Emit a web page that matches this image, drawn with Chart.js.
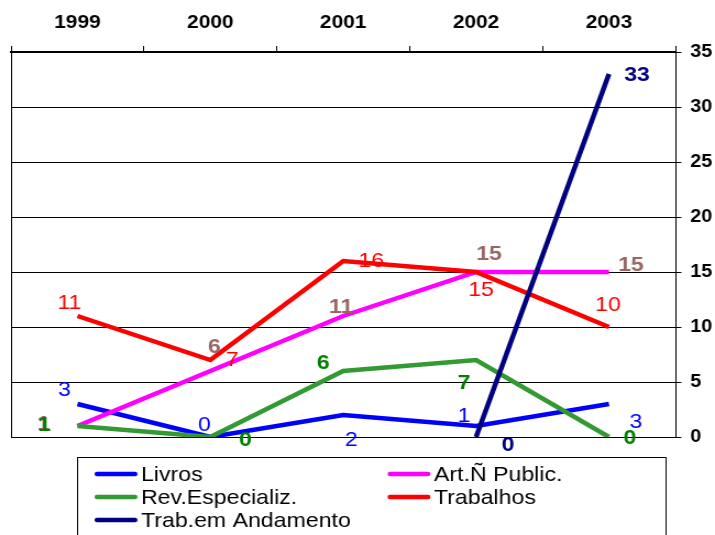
<!DOCTYPE html>
<html>
<head>
<meta charset="utf-8">
<script src="https://cdn.jsdelivr.net/npm/chart.js@4"></script>
<style>
  html, body { margin: 0; padding: 0; background: #fff; overflow: hidden; }
  /* the drawing is laid out narrow and widened horizontally */
  #wrap { width: 650px; height: 535px; transform: scaleX(1.1); transform-origin: 0 0; }
</style>
</head>
<body>
<div id="wrap"><canvas id="c" width="650" height="535"></canvas></div>
<script>
// ---- data ----
const years = ['1999', '2000', '2001', '2002', '2003'];
const livros = [3, 0, 2, 1, 3];
const artNaoPublic = [1, 6, 11, 15, 15];
const revEspecializ = [1, 0, 6, 7, 0];
const trabalhos = [11, 7, 16, 15, 10];
const trabAndamento = [null, null, null, 0, 33];
const yTicks = [0, 5, 10, 15, 20, 25, 30, 35];

// ---- styling ----
const STRETCH = 1.1;
const FONT = 'Arial, "Liberation Sans", sans-serif';

// value-label placement around each point (screen px: dx, dy)
const labelOffsets = [
  [[-13, -14], [-6, -12], [8, 25], [-12, -10], [27, 18]],
  [[-34, -2], [4, -24], [-2, -9], [13, -18], [22, -7]],
  [[-33, -1], [35, 3], [-20, -8], [-12, 23], [21, 1]],
  [[-8, -13], [22, 0], [28, 0], [5, 18], [-1, -22]],
  [null, null, null, [32, 8], [28, 1]]
];
const labelStyles = [
  { color: '#0000FF', weight: 'normal', size: 21 },
  { color: '#996666', weight: 'bold', size: 21 },
  { color: '#008000', weight: 'bold', size: 21 },
  { color: '#FF0000', weight: 'normal', size: 21 },
  { color: '#000080', weight: 'bold', size: 21 }
];

const series = [
  { label: 'Livros', data: livros, color: '#0000FF' },
  { label: 'Art.\u00D1 Public.', data: artNaoPublic, color: '#FF00FF' },
  { label: 'Rev.Especializ.', data: revEspecializ, color: '#339933' },
  { label: 'Trabalhos', data: trabalhos, color: '#FF0000' },
  { label: 'Trab.em Andamento', data: trabAndamento, color: '#000080' }
];

// left edge of the plot frame
const frameLeft = {
  id: 'frameLeft',
  afterDraw(chart) {
    const { ctx, chartArea: a } = chart;
    ctx.save();
    ctx.strokeStyle = '#000';
    ctx.lineWidth = 1;
    ctx.beginPath();
    ctx.moveTo(Math.round(a.left) + 0.5, a.top);
    ctx.lineTo(Math.round(a.left) + 0.5, a.bottom);
    ctx.stroke();
    ctx.restore();
  }
};

// numbers printed next to every point
const valueLabels = {
  id: 'valueLabels',
  afterDatasetsDraw(chart) {
    const ctx = chart.ctx;
    ctx.save();
    ctx.textAlign = 'center';
    ctx.textBaseline = 'middle';
    chart.data.datasets.forEach((ds, i) => {
      const meta = chart.getDatasetMeta(i);
      const st = labelStyles[i];
      ctx.fillStyle = st.color;
      ctx.font = `${st.weight} ${st.size}px ${FONT}`;
      ds.data.forEach((v, j) => {
        const off = labelOffsets[i][j];
        if (v === null || !off) return;
        const p = meta.data[j];
        ctx.fillText(String(v), p.x + off[0] / STRETCH, p.y + off[1]);
      });
    });
    ctx.restore();
  }
};

// boxed legend under the plot, two columns
const boxLegend = {
  id: 'boxLegend',
  afterDraw(chart) {
    const ctx = chart.ctx;
    const boxL = 77 / STRETCH, boxR = 666 / STRETCH, boxT = 457;
    ctx.save();
    ctx.strokeStyle = '#000';
    ctx.lineWidth = 1;
    ctx.strokeRect(Math.round(boxL) + 0.5, boxT + 0.5, Math.round(boxR - boxL), 120);
    const cols = [97 / STRETCH, 390 / STRETCH];
    const rows = [474, 497, 520];
    ctx.font = `21px ${FONT}`;
    ctx.textBaseline = 'middle';
    ctx.textAlign = 'left';
    chart.data.datasets.forEach((ds, i) => {
      const x = cols[i % 2], y = rows[Math.floor(i / 2)];
      ctx.strokeStyle = ds.borderColor;
      ctx.lineWidth = 4.5;
      ctx.lineCap = 'round';
      ctx.beginPath();
      ctx.moveTo(x, y);
      ctx.lineTo(x + 38 / STRETCH, y);
      ctx.stroke();
      ctx.fillStyle = '#000';
      ctx.fillText(ds.label, x + 44 / STRETCH, y + 1);
    });
    ctx.restore();
  }
};

new Chart(document.getElementById('c'), {
  type: 'line',
  data: {
    labels: years,
    datasets: series.map((s, i) => ({
      label: s.label,
      data: s.data,
      borderColor: s.color,
      backgroundColor: s.color,
      borderWidth: 4.5,
      pointRadius: 0,
      tension: 0,
      fill: false,
      order: series.length - i
    }))
  },
  options: {
    responsive: false,
    animation: false,
    layout: { padding: { left: 10, right: 0, top: 0, bottom: 98 } },
    plugins: { legend: { display: false }, tooltip: { enabled: false } },
    scales: {
      x: {
        type: 'category',
        position: 'top',
        offset: true,
        grid: { offset: true, drawOnChartArea: false, drawTicks: true, tickLength: 6, color: '#000', lineWidth: 1 },
        border: { display: true, color: '#000', width: 2 },
        ticks: { color: '#000', font: { family: FONT, size: 19, weight: 'bold' }, padding: 12, maxRotation: 0 },
        afterFit(s) { s.height = 52; }
      },
      y: {
        position: 'right',
        min: 0,
        max: 35,
        afterBuildTicks(s) { s.ticks = yTicks.map(v => ({ value: v })); },
        grid: { color: '#000', lineWidth: 1, drawTicks: true, tickLength: 6 / STRETCH },
        border: { display: true, color: '#000', width: 1 },
        ticks: { color: '#000', font: { family: FONT, size: 18, weight: 'bold' }, padding: 8 },
        afterFit(s) { s.width = 36; }
      }
    }
  },
  plugins: [frameLeft, valueLabels, boxLegend]
});
</script>
</body>
</html>
